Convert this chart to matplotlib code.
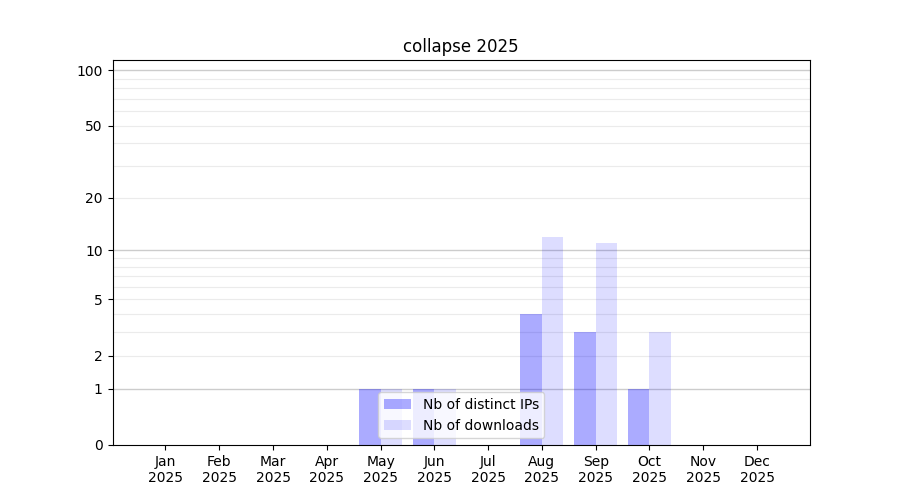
import matplotlib
matplotlib.use('Agg')
import matplotlib.pyplot as plt
import numpy as np

months = ['Jan', 'Feb', 'Mar', 'Apr', 'May', 'Jun', 'Jul', 'Aug', 'Sep', 'Oct', 'Nov', 'Dec']
year = '2025'
distinct_ips = [0, 0, 0, 0, 1, 1, 0, 4, 3, 1, 0, 0]
downloads = [0, 0, 0, 0, 1, 1, 0, 12, 11, 3, 0, 0]

major_ticks = [0, 1, 2, 5, 10, 20, 50, 100]
minor_grid = [2, 3, 4, 5, 6, 7, 8, 9, 20, 30, 40, 50, 60, 70, 80, 90]
major_grid = [1, 10, 100]


def forward(v):
    return np.log10(1 + np.asarray(v, dtype=float))


def inverse(v):
    return 10 ** np.asarray(v, dtype=float) - 1


fig, ax = plt.subplots(figsize=(9, 5), dpi=100)
x = np.arange(len(months))
w = 0.4

ax.set_yscale('function', functions=(forward, inverse))

for v in minor_grid:
    ax.axhline(v, color='#ebebeb', linewidth=0.8, zorder=0)
for v in major_grid:
    ax.axhline(v, color='#cccccc', linewidth=1.0, zorder=0)

ax.bar(x - w / 2, distinct_ips, w, color='blue', alpha=0.33, label='Nb of distinct IPs', zorder=1)
ax.bar(x + w / 2, downloads, w, color='blue', alpha=0.135, label='Nb of downloads', zorder=1)

ax.set_yticks(major_ticks)
ax.set_yticklabels([str(t) for t in major_ticks])
ax.set_ylim(0, 113.5)
ax.set_xticks(x)
ax.set_xticklabels([m + '\n' + year for m in months])
ax.set_xlim(-0.985, 11.985)
ax.minorticks_off()

ax.set_title('collapse 2025')
ax.legend(loc='lower center')

fig.savefig('out.png')
